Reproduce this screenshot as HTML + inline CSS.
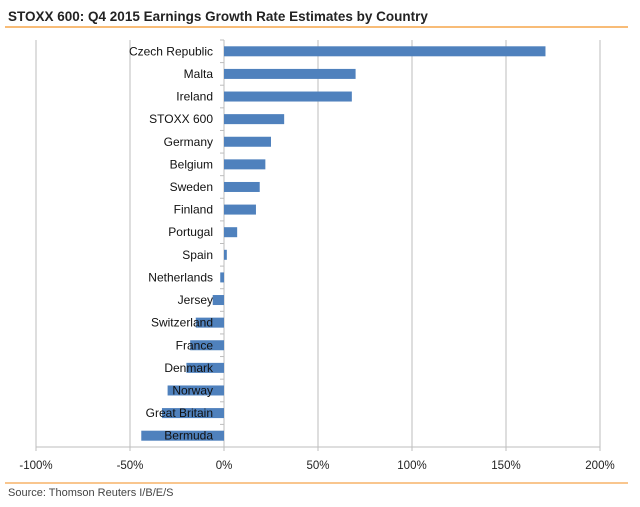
<!DOCTYPE html>
<html><head><meta charset="utf-8"><style>
body{margin:0;background:#fff;width:640px;height:502px;overflow:hidden;font-family:"Liberation Sans",sans-serif}
</style></head><body>
<svg width="640" height="502" id="c" font-family="Liberation Sans, sans-serif">
<text x="8" y="21" font-size="13.5" font-weight="bold" fill="#222">STOXX 600: Q4 2015 Earnings Growth Rate Estimates by Country</text>
<line x1="5" y1="27" x2="628" y2="27" stroke="#f5a54a" stroke-width="1.5"/>
<line x1="5" y1="483" x2="628" y2="483" stroke="#f5a54a" stroke-width="1.2"/>
<text x="8" y="496" font-size="11" fill="#444">Source: Thomson Reuters I/B/E/S</text>
<g id="g"></g><g id="b"></g><g id="l"></g>
</svg>
<script>
const categories=["Czech Republic","Malta","Ireland","STOXX 600","Germany","Belgium","Sweden","Finland","Portugal","Spain","Netherlands","Jersey","Switzerland","France","Denmark","Norway","Great Britain","Bermuda"];
const values=[171,70,68,32,25,22,19,17,7,1.5,-2,-6,-15,-18,-20,-30,-33,-44];
const ticks=[-100,-50,0,50,100,150,200];
const tickLabels=["-100%","-50%","0%","50%","100%","150%","200%"];
const NS="http://www.w3.org/2000/svg";
const xs=v=>224+(v)*1.88;
const plotTop=40,plotBot=447,band=(plotBot-plotTop)/categories.length;
const ys=i=>plotTop+band*i;
function mk(t,a,p){const e=document.createElementNS(NS,t);for(const k in a)e.setAttribute(k,a[k]);document.getElementById(p).appendChild(e);return e;}
ticks.forEach((t,i)=>{
 const gl=mk('line',{x1:xs(t),x2:xs(t),y1:plotTop,y2:plotBot+4,stroke:'#bdbdbd','stroke-width':1},'g');
 
 
 const tl=mk('text',{x:xs(t),y:469,'text-anchor':'middle','font-size':11.5,fill:'#222'},'l');
 tl.textContent=tickLabels[i];
 
 
});
const ax=mk('line',{x1:xs(-100),x2:xs(200),y1:plotBot,y2:plotBot,stroke:'#bdbdbd'},'g');


const ya=mk('line',{x1:xs(0),x2:xs(0),y1:plotTop,y2:plotBot,stroke:'#bdbdbd'},'g');


categories.forEach((c,i)=>{
 const tk=mk('line',{x1:xs(0)-4,x2:xs(0),y1:ys(i),y2:ys(i),stroke:'#bdbdbd'},'g');
 
 
 const v=values[i];
 const r=mk('rect',{x:Math.min(xs(0),xs(v)),y:ys(i)+band/2-5,width:Math.abs(xs(v)-xs(0)),height:10,fill:'#4f81bd'},'b');
 
 
 const t=mk('text',{x:213,y:ys(i)+band/2+4,'text-anchor':'end','font-size':12,fill:'#111'},'l');
 t.textContent=c;
 
 
});
</script>
</body></html>
